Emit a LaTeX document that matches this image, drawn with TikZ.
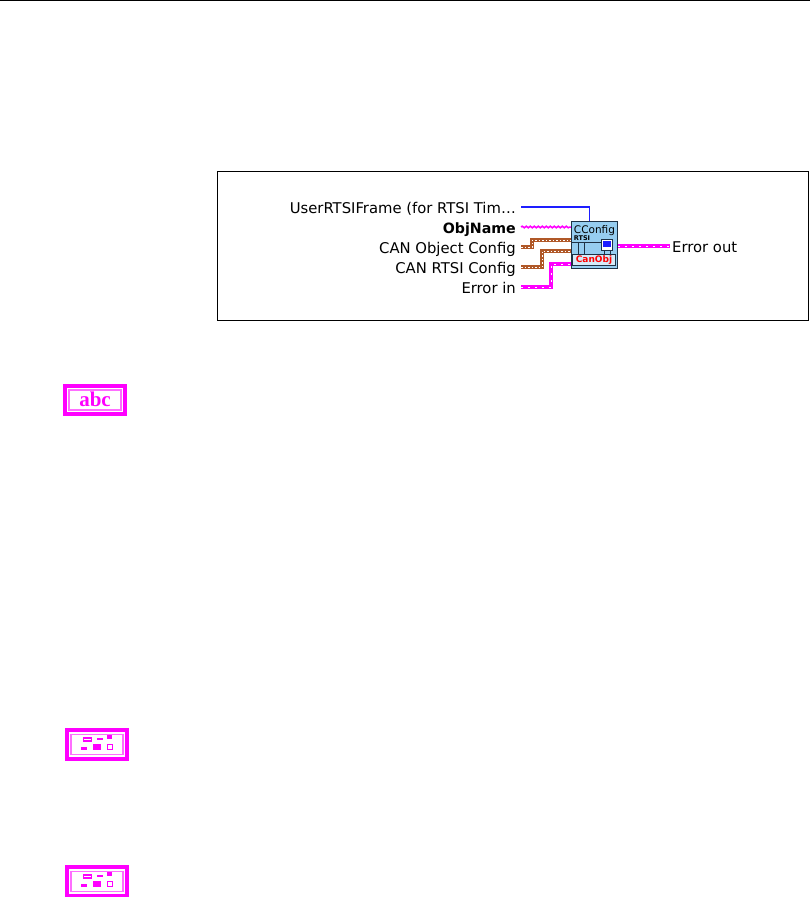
\documentclass[tikz,border=0pt]{standalone}
\usepackage{fontspec}
\setmainfont{DejaVu Sans}
\newfontfamily\iconserif{Liberation Serif}
\usetikzlibrary{positioning,decorations.pathmorphing}
\definecolor{wirepink}{RGB}{255,0,255}
\definecolor{wirebrown}{RGB}{176,88,40}
\definecolor{wireblue}{RGB}{30,30,255}
\definecolor{iconblue}{RGB}{150,205,240}
\definecolor{icondark}{RGB}{30,50,70}
\definecolor{framepink}{RGB}{255,110,255}
\begin{document}
\begin{tikzpicture}[
    x=1pt, y=-1pt,
    termlabel/.style={anchor=east, inner sep=5pt, text height=13pt, text depth=0pt, font=\fontsize{14.8}{14.8}\selectfont},
    errorwire/.style={draw=wirepink, line width=3.6pt, postaction={draw=white, line width=1pt, dash pattern=on 2pt off 5pt}},
    clusterwire/.style={draw=wirebrown, line width=3.6pt, postaction={draw=white, line width=1pt, dash pattern=on 1.5pt off 2pt}},
    stringwire/.style={draw=wirepink, line width=1.5pt, decorate, decoration={snake, amplitude=0.8pt, segment length=4pt}},
    numwire/.style={draw=wireblue, line width=1.5pt},
    typebox/.style={draw=wirepink, line width=4pt, fill=white, minimum width=60pt, inner sep=0pt},
    typeframe/.style={draw=framepink, line width=1.6pt, minimum width=52pt, minimum height=20pt, inner sep=0pt},
    typepart/.style={draw=wirepink, line width=1.2pt, inner sep=0pt},
    typefill/.style={fill=wirepink, inner sep=0pt}
]
\useasboundingbox (0,0) rectangle (810,897);
\draw[line width=0.8pt] (0,0.5) -- (810,0.5);
\node[draw, line width=0.8pt, minimum width=591pt, minimum height=149pt, inner sep=0pt] (frame) at (512.5,245.5) {};

\node[termlabel] (userframe) at (521,207) {UserRTSIFrame (for RTSI Tim\dots};
\node[termlabel, font=\fontsize{14.2}{14.2}\selectfont\bfseries] (objname) at (521,227) {ObjName};
\node[termlabel] (objconfig) at (521,247) {CAN Object Config};
\node[termlabel] (rtsiconfig) at (521,267) {CAN RTSI Config};
\node[termlabel] (errorin) at (521,287) {Error in};

\node[draw=icondark, line width=1.5pt, fill=iconblue, minimum width=46pt, minimum height=47pt, inner sep=0pt] (vi) at (594.5,245) {};
\node[inner sep=0pt, font=\fontsize{10.5}{10.5}\selectfont] (vititle) at (594.5,230.5) {CConfig};
\node[inner sep=0pt, font=\fontsize{6.5}{6.5}\selectfont\bfseries] (virtsi) at (582,238) {RTSI};
\draw[icondark, line width=1pt] (572,242) -- (601,242);
\draw[icondark, line width=1pt] (578,242) -- (578,254) (584,242) -- (584,254);
\draw[icondark, line width=1pt] (604,250) -- (604,254) (610,250) -- (610,254);
\node[draw=icondark, line width=1pt, fill=white, minimum width=11pt, minimum height=11pt, inner sep=0pt] (screen) at (606.5,244.5) {};
\node[fill=wireblue, minimum width=8pt, minimum height=6pt, inner sep=0pt] (screenblue) at (606.5,243.5) {};
\node[draw=icondark, line width=1pt, fill=iconblue!40!white, minimum width=43pt, minimum height=11pt, inner sep=0pt] (objbar) at (594,260) {};
\node[text=red, inner sep=0pt, font=\fontsize{9}{9}\selectfont\bfseries] (objtext) at (594,260) {CanObj};

\node[termlabel, anchor=west, inner sep=2pt] (errorout) at (670,246) {Error out};

\coordinate (userbend) at (589.5,207);
\coordinate (objbend) at (532,240);
\coordinate (rtsibend) at (542,251);
\coordinate (errbend) at (551,264);

\draw[numwire] (userframe.east) -- (userbend) -- (userbend |- vi.north);
\draw[stringwire] (objname.east) -- (objname.east -| vi.west);
\draw[clusterwire] (objconfig.east) -| (objbend) -- (objbend -| vi.west);
\draw[clusterwire] (rtsiconfig.east) -| (rtsibend) -- (rtsibend -| vi.west);
\draw[errorwire] (errorin.east) -| (errbend) -- (errbend -| vi.west);
\draw[errorwire] (vi.east |- errorout.west) -- (errorout.west);

\node[typebox, minimum height=28pt] (abcicon) at (95,400) {};
\node[typeframe, draw] (abcframe) at (95,400) {};
\node[inner sep=0pt, text=wirepink, font=\fontsize{21}{21}\selectfont\iconserif\bfseries] (abctext) at (95,399) {abc};

\foreach \name/\ypos in {clusterone/744.5, clustertwo/881.5}{
    \node[typebox, minimum height=29pt] (\name) at (97,\ypos) {};
    \node[typeframe, draw] at (97,\ypos) {};
    \node[typepart, draw, minimum width=8pt, minimum height=3pt] at (87.5,\ypos-5) {};
    \node[typefill, minimum width=6pt, minimum height=2pt] at (100,\ypos-6) {};
    \node[typefill, minimum width=5pt, minimum height=4pt] at (109.5,\ypos-7.5) {};
    \node[typefill, minimum width=6pt, minimum height=3pt] at (84,\ypos+4) {};
    \node[typefill, minimum width=8pt, minimum height=6pt] at (97,\ypos+2.5) {};
    \node[typepart, draw, minimum width=5pt, minimum height=5pt] at (110,\ypos+2.5) {};
}
\end{tikzpicture}
\end{document}
